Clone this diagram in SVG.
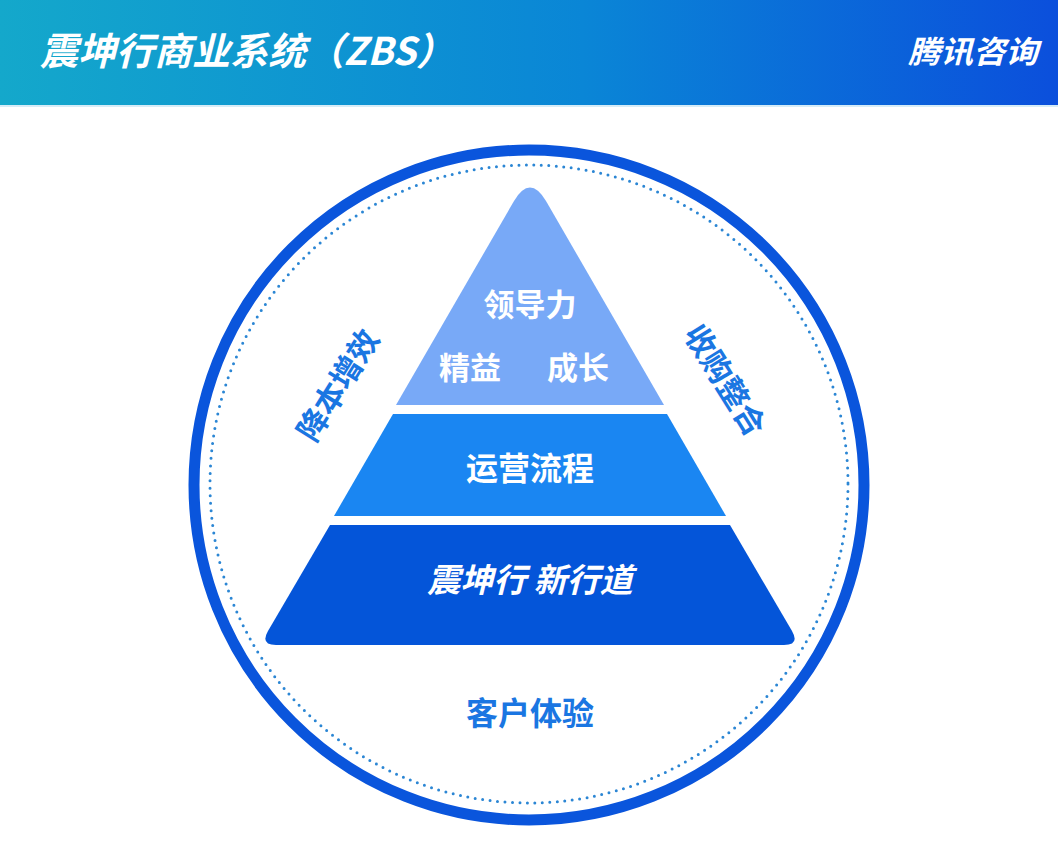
<svg xmlns="http://www.w3.org/2000/svg" width="1058" height="846" viewBox="0 0 1058 846">
<defs>
<linearGradient id="hdr" x1="0" y1="0" x2="1" y2="0">
<stop offset="0" stop-color="#14a8cb"/>
<stop offset="0.55" stop-color="#0a86d6"/>
<stop offset="1" stop-color="#0b4fdc"/>
</linearGradient>
<style>
.cjk{font-family:"Noto Sans CJK SC","Noto Sans",sans-serif;font-weight:600}
.white{fill:#ffffff}
.blue{fill:#1a76e2}
.slant{font-style:italic}
</style>
</defs>
<rect x="0" y="0" width="1058" height="846" fill="#ffffff"/>
<g id="header">
<rect x="0" y="0" width="1058" height="105" fill="url(#hdr)"/>
<rect x="0" y="105" width="1058" height="2" fill="#d6ecf7"/>
<text class="cjk white slant" x="40" y="65" font-size="38" textLength="414" lengthAdjust="spacingAndGlyphs">震坤行商业系统（ZBS）</text>
<text class="cjk white slant" x="908" y="63" font-size="31" textLength="130" lengthAdjust="spacingAndGlyphs">腾讯咨询</text>
</g>
<g id="rings">
<circle cx="529" cy="485" r="335" fill="none" stroke="#0a55dc" stroke-width="11"/>
<circle cx="529" cy="484" r="319" fill="none" stroke="#2b86d4" stroke-width="3" stroke-linecap="round" stroke-dasharray="0 7.5"/>
</g>
<g id="level-top">
<path d="M396 405 L514 201 Q530 174 546 201 L664 405 Z" fill="#78a9f7"/>
<text class="cjk white" x="530" y="316" font-size="31" text-anchor="middle">领导力</text>
<text class="cjk white" x="470" y="379" font-size="31" text-anchor="middle">精益</text>
<text class="cjk white" x="578" y="379" font-size="31" text-anchor="middle">成长</text>
</g>
<g id="level-middle">
<path d="M393 414 L667 414 L726 516 L334 516 Z" fill="#1a86f2"/>
<text class="cjk white" x="530" y="480" font-size="32" text-anchor="middle">运营流程</text>
</g>
<g id="level-bottom">
<path d="M330 525 L730 525 L792 631 Q800 645 784 645 L276 645 Q260 645 268 631 Z" fill="#0455d9"/>
<text class="cjk white slant" x="530" y="592" font-size="33" text-anchor="middle">震坤行 新行道</text>
</g>
<g id="label-left">
<text class="cjk blue" x="0" y="0" font-size="31" text-anchor="middle" dominant-baseline="central" transform="translate(336,384) rotate(-58)">降本增效</text>
</g>
<g id="label-right">
<text class="cjk blue" x="0" y="0" font-size="31" text-anchor="middle" dominant-baseline="central" transform="translate(727,379) rotate(58)">收购整合</text>
</g>
<g id="label-bottom">
<text class="cjk blue" x="530" y="725" font-size="32" text-anchor="middle">客户体验</text>
</g>
<g id="connectors"/>
</svg>
